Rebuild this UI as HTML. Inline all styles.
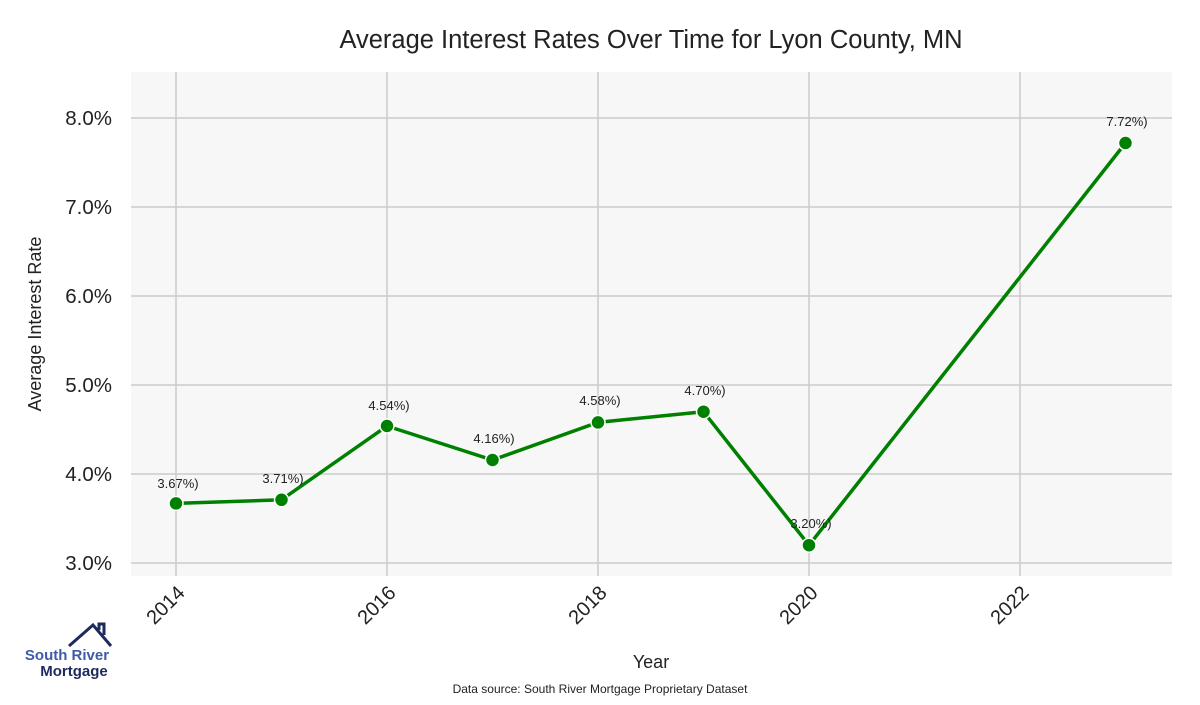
<!DOCTYPE html>
<html><head><meta charset="utf-8"><style>
body{margin:0;background:#fff;}
svg text{font-family:"Liberation Sans",sans-serif;}
</style></head><body>
<svg width="1200" height="700" xmlns="http://www.w3.org/2000/svg">
<rect width="1200" height="700" fill="#fff"/>
<text x="651" y="48" font-size="25.5" text-anchor="middle" fill="#222">Average Interest Rates Over Time for Lyon County, MN</text>
<rect x="131" y="72" width="1041" height="504" fill="#f7f7f7"/>
<g stroke="#cccccc" stroke-width="1.5">
<line x1="176" y1="72" x2="176" y2="576"/><line x1="387" y1="72" x2="387" y2="576"/>
<line x1="598" y1="72" x2="598" y2="576"/><line x1="809" y1="72" x2="809" y2="576"/>
<line x1="1020" y1="72" x2="1020" y2="576"/>
<line x1="131" y1="118" x2="1172" y2="118"/><line x1="131" y1="207" x2="1172" y2="207"/>
<line x1="131" y1="296" x2="1172" y2="296"/><line x1="131" y1="385" x2="1172" y2="385"/>
<line x1="131" y1="474" x2="1172" y2="474"/><line x1="131" y1="563" x2="1172" y2="563"/>
</g>
<g font-size="20.5" fill="#222" text-anchor="end">
<text x="112" y="125">8.0%</text><text x="112" y="214">7.0%</text><text x="112" y="303">6.0%</text>
<text x="112" y="392">5.0%</text><text x="112" y="481">4.0%</text><text x="112" y="570">3.0%</text>
</g>
<g font-size="20" fill="#222" text-anchor="end">
<text transform="translate(186,594) rotate(-45)">2014</text>
<text transform="translate(397,594) rotate(-45)">2016</text>
<text transform="translate(608,594) rotate(-45)">2018</text>
<text transform="translate(819,594) rotate(-45)">2020</text>
<text transform="translate(1030,594) rotate(-45)">2022</text>
</g>
<text transform="translate(41,324) rotate(-90)" font-size="18" fill="#222" text-anchor="middle">Average Interest Rate</text>
<text x="651" y="668" font-size="18" fill="#222" text-anchor="middle">Year</text>
<text x="600" y="693" font-size="12" fill="#222" text-anchor="middle">Data source: South River Mortgage Proprietary Dataset</text>
<polyline fill="none" stroke="#008000" stroke-width="3.5" points="176,503.4 281.5,499.8 387,426 492.5,460 598,422.4 703.5,411.7 809,545.2 1125.5,143"/>
<g fill="#008000" stroke="#fff" stroke-width="1.5">
<circle cx="176" cy="503.4" r="7"/><circle cx="281.5" cy="499.8" r="7"/><circle cx="387" cy="426" r="7"/>
<circle cx="492.5" cy="460" r="7"/><circle cx="598" cy="422.4" r="7"/><circle cx="703.5" cy="411.7" r="7"/>
<circle cx="809" cy="545.2" r="7"/><circle cx="1125.5" cy="143" r="7"/>
</g>
<g font-size="13" fill="#222" text-anchor="middle">
<text x="178" y="488">3.67%)</text><text x="283" y="483">3.71%)</text><text x="389" y="410">4.54%)</text>
<text x="494" y="443">4.16%)</text><text x="600" y="405">4.58%)</text><text x="705" y="395">4.70%)</text>
<text x="811" y="528">3.20%)</text><text x="1127" y="126">7.72%)</text>
</g>
<polyline fill="none" stroke="#1e2a5e" stroke-width="3" points="69,646 93,625 111,646"/>
<polyline fill="none" stroke="#1e2a5e" stroke-width="3" points="99,630 99,624 104,624 104,635"/>
<text x="67" y="660" font-size="15" font-weight="bold" fill="#3f5aa8" text-anchor="middle">South River</text>
<text x="74" y="676" font-size="15" font-weight="bold" fill="#1e2a5e" text-anchor="middle">Mortgage</text>
</svg>
</body></html>
